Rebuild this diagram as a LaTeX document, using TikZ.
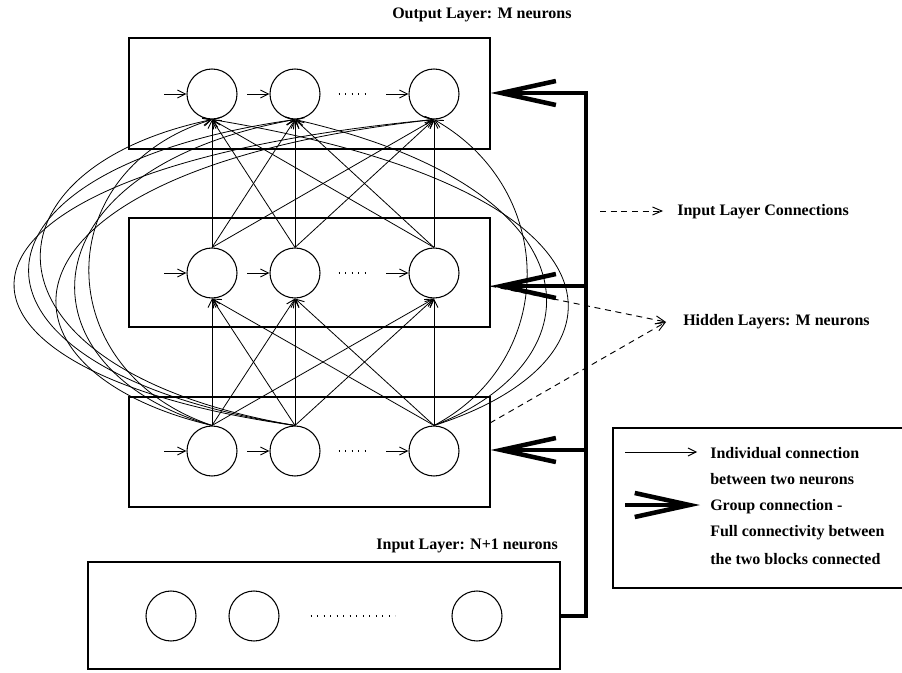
\documentclass[tikz,border=0pt]{standalone}
\usepackage{fontspec}
\setmainfont{Liberation Serif}
\usetikzlibrary{arrows.meta,calc}

\begin{document}
\begin{tikzpicture}[x=0.75pt,y=-0.75pt,
  neuron/.style={circle,draw,line width=0.8pt,minimum size=37.5pt,inner sep=0pt},
  layerbox/.style={rectangle,draw,line width=1pt,inner sep=0pt},
  conn/.style={line width=0.6pt,-{Straight Barb[length=6pt,width=6pt,line width=0.7pt]}},
  grouparrow/.style={line width=3pt,line join=miter,-{Straight Barb[length=41pt,width=18pt,line width=3.4pt]}},
  pointer/.style={line width=0.7pt,dash pattern=on 4.5pt off 3.5pt,-{Straight Barb[length=7pt,width=6pt,line width=0.7pt]}},
  rowdots/.style={line width=0.9pt,dash pattern=on 0.8pt off 4.1pt},
  lbl/.style={font=\fontsize{12}{14}\selectfont\bfseries,inner sep=0pt},
]
\useasboundingbox (0,0) rectangle (902,673);

% layer blocks
\node[layerbox,minimum width=361*0.75pt,minimum height=111*0.75pt] (obox) at (309.5,93.5) {};
\node[layerbox,minimum width=361*0.75pt,minimum height=109*0.75pt] (hbox) at (309.5,272.5) {};
\node[layerbox,minimum width=361*0.75pt,minimum height=110*0.75pt] (lbox) at (309.5,452) {};
\node[layerbox,minimum width=472*0.75pt,minimum height=107*0.75pt] (ibox) at (324,615.5) {};

% neurons
\foreach \n/\x in {1/212,2/295,3/434}{
  \node[neuron] (o\n) at (\x,94) {};
  \node[neuron] (h\n) at (\x,273) {};
  \node[neuron] (l\n) at (\x,451) {};
}
\node[neuron] (i1) at (171,616) {};
\node[neuron] (i2) at (254,616) {};
\node[neuron] (i3) at (477,616) {};

% lateral inputs into each neuron of the three upper rows
\foreach \r in {o,h,l}{
  \foreach \n in {1,2,3}{
    \draw[conn] ($(\r\n.west)+(-22,0)$) -- (\r\n.west);
  }
  \draw[rowdots] ($(\r2.east)+(18,0)$) -- ($(\r3.west)+(-43,0)$);
}
\draw[rowdots] ($(i2.east)+(31,0)$) -- ($(i3.west)+(-56,0)$);

% straight connections between adjacent layers
\foreach \a in {1,2,3}{
  \foreach \b in {1,2,3}{
    \draw[conn] (h\a.north) -- (o\b.south);
    \draw[conn] (l\a.north) -- (h\b.south);
  }
}

% skip connections, left side
\draw[conn] (l1.north) .. controls (48,370) and (48,170) .. (o1.south);
\draw[conn] (l1.north) .. controls (17,370) and (17,170) .. (o2.south);
\draw[conn] (l1.north) .. controls (-24,370) and (-24,170) .. (o3.south);
\draw[conn] (l2.north) .. controls (-29,370) and (-29,170) .. (o1.south);
\draw[conn] (l2.north) .. controls (-60,370) and (-60,170) .. (o2.south);
\draw[conn] (l2.north) .. controls (-100,370) and (-100,170) .. (o3.south);
% skip connections, right side
\draw[conn] (l3.north) .. controls (558,360) and (558,190) .. (o3.south);
\draw[conn] (l3.north) .. controls (602,360) and (602,190) .. (o2.south);
\draw[conn] (l3.north) .. controls (640,360) and (640,190) .. (o1.south);

% group connections from the input block
\coordinate (busT) at (586,93);
\coordinate (tapH) at (586,286);
\coordinate (tapL) at (586,450);
\draw[grouparrow] (ibox.east) -| (busT) -- (obox.east |- busT);
\draw[grouparrow] (tapH) -- (hbox.east |- tapH);
\draw[grouparrow] (tapL) -- (lbox.east |- tapL);

% titles
\node[lbl,anchor=west] (otitle) at (392,15) {Output Layer: M neurons};
\node[lbl,anchor=east] (ititle) at (558,546) {Input Layer: N+1 neurons};

% annotations
\coordinate (ilcA) at (600,211);
\coordinate (ilcB) at (663,211);
\draw[pointer] (ilcA) -- (ilcB);
\node[lbl,anchor=west] (ilc) at (677,212) {Input Layer Connections};
\coordinate (hlp) at (666,322);
\coordinate (hsrc) at (490,286);
\coordinate (lsrc) at (490,423);
\draw[pointer] (hsrc) -- (hlp);
\draw[pointer] (lsrc) -- (hlp);
\node[lbl,anchor=west] (hl) at (683,322) {Hidden Layers: M neurons};

% legend
\draw[line width=1pt] (613,428) rectangle (906,588);
\coordinate (k1a) at (625,452);
\coordinate (k1b) at (697,452);
\draw[conn] (k1a) -- (k1b);
\coordinate (k2a) at (625,505);
\coordinate (k2b) at (700,505);
\draw[grouparrow] (k2a) -- (k2b);
\node[lbl,anchor=west] (t1) at (710,453) {Individual connection};
\node[lbl,anchor=west] (t2) at (710,479) {between two neurons};
\node[lbl,anchor=west] (t3) at (710,507) {Group connection -};
\node[lbl,anchor=west] (t4) at (710,533) {Full connectivity between};
\node[lbl,anchor=west] (t5) at (710,559) {the two blocks connected};
\end{tikzpicture}
\end{document}
